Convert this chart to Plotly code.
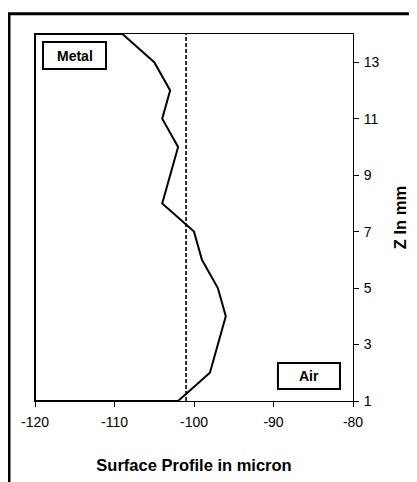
import plotly.graph_objects as go

# Data
depth_mm = [14, 13, 12, 11, 10, 9, 8, 7, 6, 5, 4, 3, 2, 1]
profile_um = [-109, -105, -103, -104, -102, -103, -104, -100, -99, -97, -96, -97, -98, -102]
reference_um = -101
x_range = [-120, -80]
y_range = [1, 14]
x_ticks = [-120, -110, -100, -90, -80]
x_tick_labels = ["-120", "-110", "-100", "-90", "-80"]
y_ticks = [1, 3, 5, 7, 9, 11, 13]

# closed outline: profile plus edges at the axis limits
path_x = [x_range[0]] + profile_um + [x_range[0], x_range[0]]
path_y = [y_range[1]] + depth_mm + [y_range[0], y_range[1]]

fig = go.Figure()
fig.add_trace(go.Scatter(x=path_x, y=path_y, mode="lines",
                         line=dict(color="black", width=2), hoverinfo="skip",
                         showlegend=False))
fig.add_trace(go.Scatter(x=[reference_um, reference_um], y=y_range, mode="lines",
                         line=dict(color="black", width=1.6, dash="4px,2px"),
                         showlegend=False))

font_family = "Liberation Sans, Arial, sans-serif"

fig.update_layout(
    width=409, height=474,
    margin=dict(l=27, r=64, t=26, b=81),
    paper_bgcolor="white", plot_bgcolor="white",
    font=dict(family=font_family, color="black", size=14),
    xaxis=dict(range=x_range, tickvals=x_ticks, ticktext=x_tick_labels,
               showgrid=False, zeroline=False, automargin=False,
               showline=True, linecolor="black", linewidth=1, mirror=True,
               ticks="outside", ticklen=5, tickcolor="black",
               tickfont=dict(size=14), ticklabelstandoff=3,
               title=dict(text="<b>Surface Profile in micron</b>",
                          font=dict(size=16.5), standoff=30)),
    yaxis=dict(range=y_range, tickvals=y_ticks, side="right", showgrid=False,
               zeroline=False, automargin=False, showline=True, linecolor="black",
               linewidth=1, mirror=True, ticks="outside", ticklen=5,
               tickcolor="black", tickfont=dict(size=14), ticklabelstandoff=2,
               title=dict(text="<b>Z In mm</b>", font=dict(size=16.5), standoff=15)),
    shapes=[
        dict(type="rect", xref="paper", yref="paper",
             x0=-0.0818, x1=1.25, y0=-0.25, y1=1.055,
             line=dict(color="black", width=3), layer="below"),
        dict(type="rect", xref="paper", yref="paper",
             x0=0.0252, x1=0.2233, y0=0.9046, y1=0.978,
             line=dict(color="black", width=2), fillcolor="white"),
        dict(type="rect", xref="paper", yref="paper",
             x0=0.764, x1=0.959, y0=0.0327, y1=0.1035,
             line=dict(color="black", width=2), fillcolor="white"),
    ],
    annotations=[
        dict(text="<b>Metal</b>", xref="paper", yref="paper",
             x=(0.0252 + 0.2233) / 2, y=(0.9046 + 0.978) / 2,
             xanchor="center", yanchor="middle",
             showarrow=False, font=dict(size=14)),
        dict(text="<b>Air</b>", xref="paper", yref="paper",
             x=(0.764 + 0.959) / 2, y=(0.0327 + 0.1035) / 2,
             xanchor="center", yanchor="middle",
             showarrow=False, font=dict(size=14)),
    ],
)

fig.write_html("out.html")
